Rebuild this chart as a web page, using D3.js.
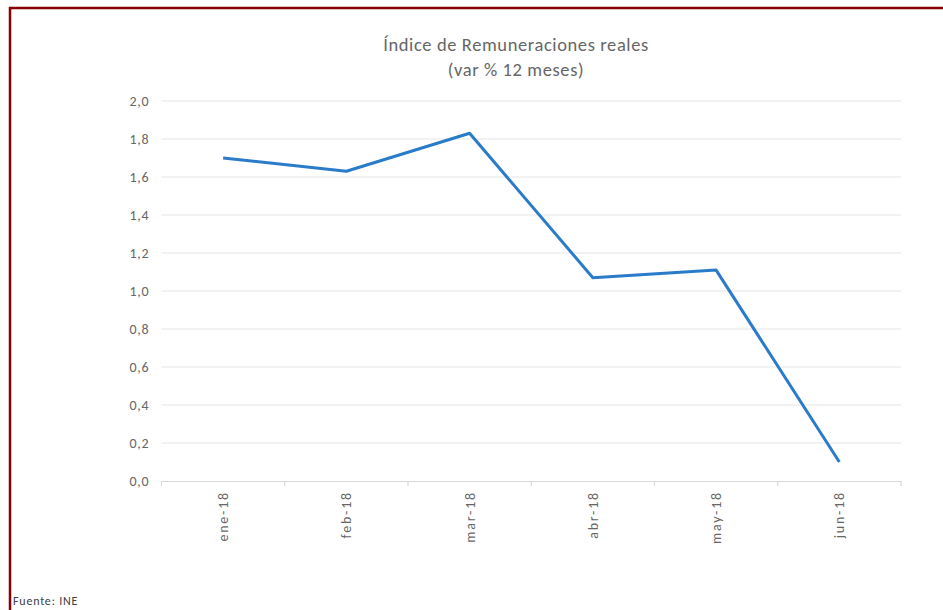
<!DOCTYPE html>
<html>
<head>
<meta charset="utf-8">
<script src="https://cdn.jsdelivr.net/npm/d3@7"></script>
<style>
  body { margin: 0; background: #fff; }
  text { font-family: Calibri, "Liberation Sans", "Open Sans", sans-serif; }
</style>
</head>
<body>
<svg width="943" height="610"></svg>
<script>
// data
const months = ['ene-18', 'feb-18', 'mar-18', 'abr-18', 'may-18', 'jun-18'];
const values = [1.70, 1.63, 1.83, 1.07, 1.11, 0.10];
const yTicks = [0, 0.2, 0.4, 0.6, 0.8, 1.0, 1.2, 1.4, 1.6, 1.8, 2.0];
const titleLines = ['Índice de Remuneraciones reales', '(var % 12 meses)'];
const source = 'Fuente: INE';

const svg = d3.select('svg');

// frame (top + left only)
svg.append('line').attr('x1', 9).attr('x2', 943).attr('y1', 8).attr('y2', 8)
  .attr('stroke', '#8b0000').attr('stroke-width', 2.5);
svg.append('line').attr('x1', 10).attr('x2', 10).attr('y1', 7).attr('y2', 610)
  .attr('stroke', '#8b0000').attr('stroke-width', 2.5);

const plotLeft = 161.5, plotRight = 901, plotTop = 101, plotBottom = 481;

const x = d3.scaleBand().domain(months).range([plotLeft, plotRight]);
const y = d3.scaleLinear().domain([0, 2]).range([plotBottom, plotTop]);

// gridlines
svg.append('g')
  .selectAll('line')
  .data(yTicks.filter(d => d > 0))
  .enter().append('line')
    .attr('x1', plotLeft).attr('x2', plotRight)
    .attr('y1', d => y(d)).attr('y2', d => y(d))
    .attr('stroke', '#e6e6e6').attr('stroke-width', 1.2);

// y axis labels
const yAxis = svg.append('g')
  .attr('transform', 'translate(' + plotLeft + ',0)')
  .call(d3.axisLeft(y).tickValues(yTicks).tickSize(0).tickPadding(12)
    .tickFormat(d => d3.format('.1f')(d).replace('.', ',')));
yAxis.select('.domain').remove();
yAxis.selectAll('text').attr('fill', '#666').style('font-size', '14px')
  .style('letter-spacing', '0.8px');

// x axis
const xAxis = svg.append('g')
  .attr('transform', 'translate(0,' + plotBottom + ')')
  .call(d3.axisBottom(x).tickSizeOuter(0).tickSizeInner(0));
xAxis.select('.domain').attr('stroke', '#d9d9d9').attr('stroke-width', 1.2);
xAxis.selectAll('text')
  .attr('fill', '#666').style('font-size', '14px')
  .style('letter-spacing', '1.8px')
  .attr('transform', 'rotate(-90)')
  .attr('x', -10).attr('y', 0).attr('dy', '0.35em')
  .style('text-anchor', 'end');

// small tick marks at band edges
svg.append('g')
  .selectAll('line')
  .data(months.concat(['end']))
  .enter().append('line')
    .attr('x1', (d, i) => plotLeft + i * x.step())
    .attr('x2', (d, i) => plotLeft + i * x.step())
    .attr('y1', plotBottom).attr('y2', plotBottom + 5)
    .attr('stroke', '#d9d9d9').attr('stroke-width', 1.2);

// line
const line = d3.line()
  .x((d, i) => x(months[i]) + x.bandwidth() / 2)
  .y(d => y(d));
svg.append('path')
  .datum(values)
  .attr('d', line)
  .attr('fill', 'none')
  .attr('stroke', '#2a7bc9')
  .attr('stroke-width', 3)
  .attr('stroke-linejoin', 'round');

// title
svg.append('g').selectAll('text')
  .data(titleLines)
  .enter().append('text')
    .attr('x', 516).attr('y', (d, i) => 51 + i * 25)
    .attr('text-anchor', 'middle')
    .attr('fill', '#666')
    .style('font-size', '18.5px')
    .style('letter-spacing', '0.6px')
    .text(d => d);

svg.append('text')
  .attr('x', 13).attr('y', 605)
  .attr('fill', '#404040')
  .style('font-size', '12px')
  .style('letter-spacing', '0.8px')
  .text(source);
</script>
</body>
</html>
